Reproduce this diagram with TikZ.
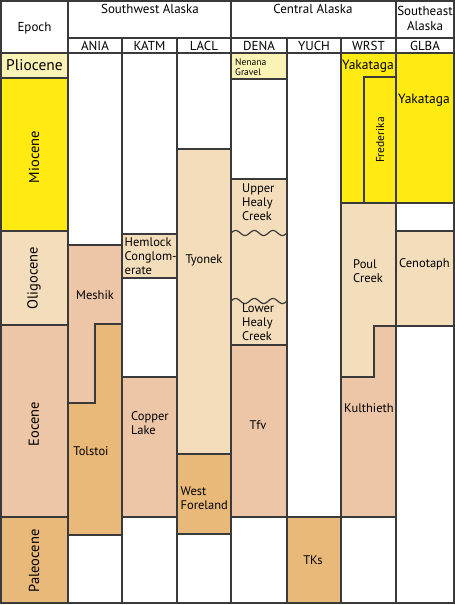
\documentclass[tikz,border=0pt]{standalone}
\usepackage{fontspec}
\setmainfont{PT Sans}
\usetikzlibrary{positioning}
\definecolor{rule}{HTML}{3A3A3A}
\definecolor{plio}{HTML}{FBF3B6}
\definecolor{mioc}{HTML}{FFEA12}
\definecolor{olig}{HTML}{F4DDBB}
\definecolor{eoc}{HTML}{ECC6A6}
\definecolor{paleo}{HTML}{E8B979}
\tikzset{cell/.style={draw=rule, line width=1.2pt},
  hdr/.style={font=\fontsize{13}{15}\selectfont, align=center, inner sep=0pt},
  ep/.style={font=\fontsize{14.5}{16}\selectfont, rotate=90, inner sep=0pt},
  unit/.style={font=\fontsize{12.5}{14}\selectfont, align=left, inner sep=0pt},
  tiny/.style={font=\fontsize{9.5}{10}\selectfont, align=left, inner sep=0pt}}

\begin{document}
\begin{tikzpicture}[x=1pt, y=-1pt]
  \useasboundingbox (0,0) rectangle (455,605);
  % epoch column
  \draw[cell, fill=plio] (1,53) rectangle (68,78);
  \draw[cell, fill=mioc] (1,78) rectangle (68,231);
  \draw[cell, fill=olig] (1,231) rectangle (68,325);
  \draw[cell, fill=eoc] (1,325) rectangle (68,517);
  \draw[cell, fill=paleo] (1,517) rectangle (68,603);
  % ANIA
  \draw[cell, fill=eoc] (68,245) -- (122,245) -- (122,324) -- (95,324) -- (95,403) -- (68,403) -- cycle;
  \draw[cell, fill=paleo] (95,324) -- (122,324) -- (122,535) -- (68,535) -- (68,403) -- (95,403) -- cycle;
  % KATM
  \draw[cell, fill=olig] (122,234) rectangle (177,278);
  \draw[cell, fill=eoc] (122,377) rectangle (177,517);
  % LACL
  \draw[cell, fill=olig] (177,149) rectangle (231,454);
  \draw[cell, fill=paleo] (177,454) rectangle (231,534);
  % DENA
  \draw[cell, fill=plio] (231,53) rectangle (287,79);
  \draw[cell, fill=olig] (231,179) rectangle (287,345);
  \draw[cell, fill=eoc] (231,345) rectangle (287,517);
  \draw[rule, line width=1.2pt, domain=231:287, samples=80] plot (\x, {233-2.5*sin((\x-231)/56*3*360)});
  \draw[rule, line width=1.2pt, domain=231:287, samples=80] plot (\x, {301-2.5*sin((\x-231)/56*3*360)});
  % YUCH
  \draw[cell, fill=paleo] (287,517) rectangle (341,603);
  % WRST
  \draw[cell, fill=mioc] (341,53) rectangle (396,203);
  \draw[cell] (364,203) -- (364,77) -- (396,77);
  \draw[cell, fill=olig] (341,203) -- (396,203) -- (396,326) -- (374,326) -- (374,377) -- (341,377) -- cycle;
  \draw[cell, fill=eoc] (374,326) -- (396,326) -- (396,517) -- (341,517) -- (341,377) -- (374,377) -- cycle;
  % GLBA
  \draw[cell, fill=mioc] (396,53) rectangle (454,203);
  \draw[cell, fill=olig] (396,231) rectangle (454,326);
  % frame
  \draw[cell] (1,1) rectangle (454,603);
  \draw[cell] (1,53) -- (454,53);
  \draw[cell] (68,38) -- (454,38);
  \foreach \cx in {68,231,396} \draw[cell] (\cx,1) -- (\cx,603);
  \foreach \cx in {122,177,287,341} \draw[cell] (\cx,38) -- (\cx,603);
  % headers
  \node[hdr] (epochhd) at (34.5,28) {Epoch};
  \node[hdr] (swak) at (150,9) {Southwest Alaska};
  \node[hdr] (cak) at (313,9) {Central Alaska};
  \node[hdr] (seak) at (425,18.5) {Southeast\\Alaska};
  \node[hdr] (ania) at (95,46) {ANIA};
  \node[hdr] (katm) at (149.5,46) {KATM};
  \node[hdr] (lacl) at (204,46) {LACL};
  \node[hdr] (dena) at (259,46) {DENA};
  \node[hdr] (yuch) at (314,46) {YUCH};
  \node[hdr] (wrst) at (368.5,46) {WRST};
  \node[hdr] (glba) at (425,46) {GLBA};
  % epochs
  \node[font=\fontsize{15.5}{17}\selectfont, inner sep=0pt] (plioc) at (34.5,65.5) {Pliocene};
  \node[ep] (mioce) at (34,157) {Miocene};
  \node[ep] (oligo) at (34,278) {Oligocene};
  \node[ep] (eoce) at (34,424) {Eocene};
  \node[ep] (paleoc) at (34,561) {Paleocene};
  % units
  \node[unit] (meshik) at (95,295) {Meshik};
  \node[unit] (tolstoi) at (91,451) {Tolstoi};
  \node[unit, anchor=west] (hemlock) at (124.5,256) {Hemlock\\Conglom-\\erate};
  \node[unit, anchor=west] (copper) at (131,423) {Copper\\Lake};
  \node[unit] (tyonek) at (204,260) {Tyonek};
  \node[unit, anchor=west] (westfl) at (180.5,498) {West\\Foreland};
  \node[tiny, anchor=west] (nenana) at (235,67) {Nenana\\Gravel};
  \node[unit, anchor=west] (uhealy) at (242,202) {Upper\\Healy\\Creek};
  \node[unit, anchor=west] (lhealy) at (242,322) {Lower\\Healy\\Creek};
  \node[unit] (tfv) at (258,425) {Tfv};
  \node[unit] (tks) at (313,560) {TKs};
  \node[font=\fontsize{13.5}{15}\selectfont, inner sep=0pt] (yakw) at (368,66) {Yakataga};
  \node[font=\fontsize{11.5}{14}\selectfont, rotate=90, inner sep=0pt] (frederika) at (380,140) {Frederika};
  \node[font=\fontsize{13.5}{15}\selectfont, inner sep=0pt] (yakg) at (424,100) {Yakataga};
  \node[unit, anchor=west] (poul) at (353,271.5) {Poul\\Creek};
  \node[unit] (cenotaph) at (424.5,264) {Cenotaph};
  \node[unit] (kulth) at (369,408) {Kulthieth};
\end{tikzpicture}
\end{document}
